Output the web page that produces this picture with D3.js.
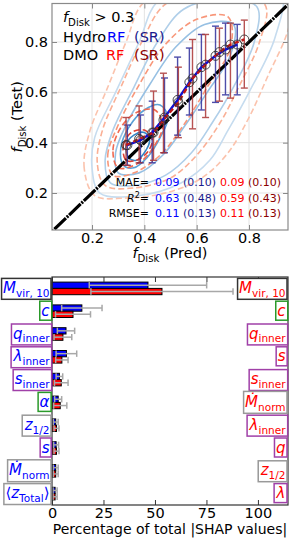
<!DOCTYPE html>
<html>
<head>
<meta charset="utf-8">
<script src="https://cdn.jsdelivr.net/npm/d3@7"></script>
<style>
  body { margin: 0; background: #fff; }
  text { font-family: "DejaVu Sans", sans-serif; }
</style>
</head>
<body>
<svg id="chart" width="297" height="543"></svg>
<script>
// ---------- data: top panel (binned predictions) ----------
const hydroPred = [0.335, 0.385, 0.43, 0.477, 0.527, 0.572, 0.618, 0.672, 0.71, 0.755];
const hydroMean = [0.39, 0.41, 0.44, 0.50, 0.57, 0.64, 0.70, 0.745, 0.77, 0.79];
const hydroLo   = [0.31, 0.32, 0.32, 0.36, 0.43, 0.51, 0.53, 0.56, 0.59, 0.59];
const hydroHi   = [0.47, 0.51, 0.565, 0.657, 0.74, 0.776, 0.83, 0.863, 0.875, 0.87];

const dmoPred = [0.33, 0.38, 0.435, 0.473, 0.53, 0.584, 0.634, 0.687, 0.729, 0.782];
const dmoMean = [0.39, 0.415, 0.44, 0.49, 0.56, 0.655, 0.71, 0.76, 0.79, 0.81];
const dmoLo   = [0.31, 0.32, 0.33, 0.36, 0.42, 0.455, 0.5, 0.565, 0.577, 0.617];
const dmoHi   = [0.5, 0.546, 0.605, 0.676, 0.70, 0.81, 0.83, 0.855, 0.875, 0.887];

// density contours (x, y in data units), outer -> inner
const hydroContours = [
  [[0.23,0.2],[0.2,0.3],[0.21,0.42],[0.29,0.6],[0.38,0.8],[0.45,0.96],[0.6,1.02],[0.92,1.0],[0.9,0.82],[0.8,0.6],[0.72,0.45],[0.65,0.33],[0.54,0.24],[0.38,0.19]],
  [[0.27,0.24],[0.25,0.33],[0.28,0.45],[0.36,0.62],[0.45,0.8],[0.55,0.93],[0.7,0.97],[0.83,0.94],[0.82,0.8],[0.74,0.62],[0.66,0.48],[0.58,0.36],[0.48,0.27],[0.36,0.23]],
  [[0.3,0.28],[0.29,0.36],[0.33,0.47],[0.42,0.63],[0.52,0.78],[0.63,0.87],[0.74,0.87],[0.73,0.75],[0.64,0.6],[0.55,0.46],[0.47,0.35],[0.38,0.28]],
  [[0.32,0.31],[0.31,0.38],[0.34,0.46],[0.4,0.53],[0.46,0.55],[0.49,0.5],[0.46,0.42],[0.41,0.34],[0.36,0.3]],
  [[0.34,0.34],[0.33,0.39],[0.36,0.43],[0.4,0.44],[0.42,0.41],[0.4,0.36],[0.37,0.33]]
];
const dmoContours = [
  [[0.21,0.19],[0.17,0.3],[0.19,0.44],[0.26,0.62],[0.33,0.8],[0.4,0.96],[0.6,1.03],[0.97,1.0],[0.95,0.85],[0.87,0.66],[0.8,0.5],[0.72,0.36],[0.62,0.26],[0.48,0.2],[0.33,0.18]],
  [[0.25,0.23],[0.22,0.32],[0.24,0.45],[0.31,0.62],[0.39,0.8],[0.48,0.95],[0.65,1.0],[0.86,0.95],[0.84,0.8],[0.76,0.62],[0.69,0.48],[0.6,0.35],[0.5,0.26],[0.36,0.22]],
  [[0.28,0.27],[0.26,0.35],[0.3,0.47],[0.38,0.63],[0.48,0.79],[0.6,0.89],[0.72,0.9],[0.73,0.78],[0.64,0.62],[0.55,0.47],[0.46,0.35],[0.36,0.28]],
  [[0.3,0.3],[0.28,0.37],[0.31,0.46],[0.37,0.52],[0.44,0.53],[0.47,0.47],[0.44,0.39],[0.38,0.32]],
  [[0.33,0.33],[0.32,0.39],[0.35,0.44],[0.4,0.45],[0.43,0.41],[0.41,0.36],[0.37,0.33]]
];

const statNames = ["MAE=", "R2=", "RMSE="];
const hydroRF = ["0.09", "0.63", "0.11"];
const hydroSR = ["(0.10)", "(0.48)", "(0.13)"];
const dmoRF   = ["0.09", "0.59", "0.11"];
const dmoSR   = ["(0.10)", "(0.43)", "(0.13)"];
const scatterTicks = [0.2, 0.4, 0.6, 0.8];

// ---------- data: bottom panel (SHAP importance) ----------
const hydroFeatures = ["Mvir10", "c", "qinner", "linner", "sinner", "alpha", "z12", "s", "Mdot", "zTotal"];
const dmoFeatures   = ["Mvir10", "c", "qinner", "s", "sinner", "Mdot", "linner", "q", "z12", "lambda"];
const hydroShap = [46.6, 14.5, 6.8, 7.0, 3.6, 3.0, 1.8, 2.0, 1.8, 1.5];
const hydroErr  = [28.5, 9.8, 4.2, 5.0, 1.6, 1.7, 1.2, 1.2, 1.2, 1.0];
const dmoShap   = [53.4, 10.2, 5.3, 4.8, 4.5, 4.0, 2.2, 2.2, 1.8, 1.5];
const dmoErr    = [34.5, 8.5, 4.3, 3.0, 3.3, 3.2, 1.2, 1.2, 1.2, 1.0];
const shapTicks = [0, 25, 50, 75, 100];

// label pieces and box colours
const labelParts = {
  Mvir10: [{t: "M", it: 1}, {t: "vir, 10", sub: 1}],
  c: [{t: "c", it: 1}],
  qinner: [{t: "q", it: 1}, {t: "inner", sub: 1}],
  linner: [{t: "λ", it: 1}, {t: "inner", sub: 1}],
  sinner: [{t: "s", it: 1}, {t: "inner", sub: 1}],
  alpha: [{t: "α", it: 1}],
  z12: [{t: "z", it: 1}, {t: "1/2", sub: 1}],
  s: [{t: "s", it: 1}],
  Mdot: [{t: "M\u0307", it: 1}, {t: "norm", sub: 1}],
  zTotal: [{t: "⟨"}, {t: "z", it: 1}, {t: "Total", sub: 1}, {t: "⟩"}],
  q: [{t: "q", it: 1}],
  lambda: [{t: "λ", it: 1}]
};
const boxColor = {
  Mvir10: "#333", c: "#2a9a2a", alpha: "#2a9a2a",
  qinner: "#a040a8", linner: "#a040a8", sinner: "#a040a8", s: "#a040a8", q: "#a040a8", lambda: "#a040a8",
  z12: "#999", Mdot: "#999", zTotal: "#999"
};

const svg = d3.select("#chart");

// write text made of italic / subscript pieces
function richText(g, parts, size) {
  const t = g.append("text").attr("font-size", size);
  let down = false;
  parts.forEach(p => {
    const s = t.append("tspan").text(p.t);
    if (p.it) s.attr("font-style", "italic");
    if (p.sub) {
      s.attr("font-size", size * 0.7);
      if (!down) { s.attr("dy", size * 0.26); down = true; }
    } else if (down) { s.attr("dy", -size * 0.26); down = false; }
  });
  return t;
}

// ================= top panel =================
const T = {left: 52, right: 288, top: 3.5, bottom: 230};
const x = d3.scaleLinear([0.047, 0.949], [T.left, T.right]);
const y = d3.scaleLinear([0.053, 0.953], [T.bottom, T.top]);

svg.append("clipPath").attr("id", "clipTop")
  .append("rect").attr("x", T.left).attr("y", T.top)
  .attr("width", T.right - T.left).attr("height", T.bottom - T.top);

const topG = svg.append("g");
const plot = topG.append("g").attr("clip-path", "url(#clipTop)");

// grid
plot.selectAll(".gx").data(scatterTicks).join("line")
  .attr("x1", d => x(d)).attr("x2", d => x(d)).attr("y1", T.top).attr("y2", T.bottom)
  .attr("stroke", "#e3e3e3").attr("stroke-width", 1);
plot.selectAll(".gy").data(scatterTicks).join("line")
  .attr("y1", d => y(d)).attr("y2", d => y(d)).attr("x1", T.left).attr("x2", T.right)
  .attr("stroke", "#e3e3e3").attr("stroke-width", 1);

// contours
const contourLine = d3.line().x(d => x(d[0])).y(d => y(d[1])).curve(d3.curveCatmullRomClosed);
const blues = ["#c6dcef", "#b0cfe9", "#97c0e3", "#5aa0d6", "#3586c6"];
const reds = ["#fbc3ad", "#fab096", "#f8977a", "#f06a52", "#dc3e32"];
plot.selectAll(".hc").data(hydroContours).join("path")
  .attr("d", contourLine).attr("fill", "none")
  .attr("stroke", (d, i) => blues[i]).attr("stroke-width", 1.6);
plot.selectAll(".dc").data(dmoContours).join("path")
  .attr("d", contourLine).attr("fill", "none")
  .attr("stroke", (d, i) => reds[i]).attr("stroke-width", 1.6)
  .attr("stroke-dasharray", "6,3");

// one-to-one line
plot.append("line")
  .attr("x1", x(0.0)).attr("y1", y(0.0)).attr("x2", x(1.0)).attr("y2", y(1.0))
  .attr("stroke", "#000").attr("stroke-width", 3.2)
  .attr("stroke-dasharray", "16,1.2,2,1.2");

// error bars
function errorBars(px, lo, hi, color) {
  const g = plot.append("g").attr("stroke", color).attr("stroke-width", 1.4).attr("opacity", 0.85);
  px.forEach((p, i) => {
    g.append("line").attr("x1", x(p)).attr("x2", x(p)).attr("y1", y(lo[i])).attr("y2", y(hi[i]));
    g.append("line").attr("x1", x(p) - 3.5).attr("x2", x(p) + 3.5).attr("y1", y(lo[i])).attr("y2", y(lo[i]));
    g.append("line").attr("x1", x(p) - 3.5).attr("x2", x(p) + 3.5).attr("y1", y(hi[i])).attr("y2", y(hi[i]));
  });
}
errorBars(hydroPred, hydroLo, hydroHi, "#2e2e9c");
errorBars(dmoPred, dmoLo, dmoHi, "#ab3434");

// RF lines through the means
const meanLine = d3.line().x(d => x(d[0])).y(d => y(d[1]));
plot.append("path").datum(d3.zip(hydroPred, hydroMean)).attr("d", meanLine)
  .attr("fill", "none").attr("stroke", "#1010d0").attr("stroke-width", 2.4);
plot.append("path").datum(d3.zip(dmoPred, dmoMean)).attr("d", meanLine)
  .attr("fill", "none").attr("stroke", "#c01818").attr("stroke-width", 2.4)
  .attr("stroke-dasharray", "5,3");

// open markers
plot.selectAll(".mh").data(d3.zip(hydroPred, hydroMean).concat(d3.zip(dmoPred, dmoMean))).join("circle")
  .attr("cx", d => x(d[0])).attr("cy", d => y(d[1])).attr("r", 4.5)
  .attr("fill", "none").attr("stroke", "#333").attr("stroke-width", 0.9);

// axes (ticks inward on all sides)
const tickCol = "#888";
function styleAxis(g) {
  g.select(".domain").remove();
  g.selectAll(".tick line").attr("stroke", tickCol);
  g.selectAll(".tick text").attr("font-size", 14.5).attr("fill", "#000").attr("font-family", "DejaVu Sans");
}
topG.append("g").attr("transform", `translate(0,${T.bottom})`)
  .call(d3.axisBottom(x).tickValues(scatterTicks).tickFormat(d3.format(".1f")).tickSizeInner(-5).tickSizeOuter(0).tickPadding(3))
  .call(styleAxis);
topG.append("g").attr("transform", `translate(${T.left},0)`)
  .call(d3.axisLeft(y).tickValues(scatterTicks).tickFormat(d3.format(".1f")).tickSizeInner(-5).tickSizeOuter(0).tickPadding(4))
  .call(styleAxis);
topG.append("g").attr("transform", `translate(0,${T.top})`)
  .call(d3.axisTop(x).tickValues(scatterTicks).tickFormat("").tickSizeInner(-5).tickSizeOuter(0))
  .call(styleAxis);
topG.append("g").attr("transform", `translate(${T.right},0)`)
  .call(d3.axisRight(y).tickValues(scatterTicks).tickFormat("").tickSizeInner(-5).tickSizeOuter(0))
  .call(styleAxis);
topG.append("rect").attr("x", T.left).attr("y", T.top)
  .attr("width", T.right - T.left).attr("height", T.bottom - T.top)
  .attr("fill", "none").attr("stroke", "#8a8a8a").attr("stroke-width", 1.2);

// axis labels
richText(topG, [{t: "f", it: 1}, {t: "Disk", sub: 1}, {t: " (Pred)"}], 14.5)
  .attr("x", (T.left + T.right) / 2).attr("y", 258).attr("text-anchor", "middle");
richText(topG, [{t: "f", it: 1}, {t: "Disk", sub: 1}, {t: " (Test)"}], 14.5)
  .attr("text-anchor", "middle")
  .attr("transform", `translate(22,${(T.top + T.bottom) / 2}) rotate(-90)`);

// legend text
richText(topG, [{t: "f", it: 1}, {t: "Disk", sub: 1}, {t: " > 0.3"}], 14.5).attr("x", 63).attr("y", 22);
topG.append("text").attr("x", 63).attr("y", 42).attr("font-size", 14.5).text("Hydro");
topG.append("text").attr("x", 107).attr("y", 42).attr("font-size", 14.5).attr("fill", "#0000ff").text("RF");
topG.append("text").attr("x", 134).attr("y", 42).attr("font-size", 14.5).attr("fill", "#1a1a8c").text("(SR)");
topG.append("text").attr("x", 63).attr("y", 60).attr("font-size", 14.5).text("DMO");
topG.append("text").attr("x", 106).attr("y", 60).attr("font-size", 14.5).attr("fill", "#ff0000").text("RF");
topG.append("text").attr("x", 134).attr("y", 60).attr("font-size", 14.5).attr("fill", "#8b0000").text("(SR)");

// metrics
const statY = [185.5, 201.5, 217];
statNames.forEach((n, i) => {
  const t = topG.append("text").attr("x", 149).attr("y", statY[i]).attr("font-size", 11).attr("text-anchor", "end");
  if (n === "R2=") {
    t.append("tspan").attr("font-style", "italic").text("R");
    t.append("tspan").attr("font-size", 8).attr("dy", -4).text("2");
    t.append("tspan").attr("dy", 4).text("=");
  } else t.text(n);
  const a = topG.append("text").attr("x", 155).attr("y", statY[i]).attr("font-size", 11);
  a.append("tspan").attr("fill", "#0000ff").text(hydroRF[i]);
  a.append("tspan").attr("fill", "#1a1a8c").text(" " + hydroSR[i]);
  const b = topG.append("text").attr("x", 220).attr("y", statY[i]).attr("font-size", 11);
  b.append("tspan").attr("fill", "#ff0000").text(dmoRF[i]);
  b.append("tspan").attr("fill", "#8b0000").text(" " + dmoSR[i]);
});

// ================= bottom panel =================
const B = {left: 52, right: 288, top: 277, bottom: 505};
const xs = d3.scaleLinear([0, 114.6], [B.left, B.right]);
const ys = d3.scaleBand(hydroFeatures, [B.top, B.bottom]);
const bot = svg.append("g");
const barH = 6.3;
const yc = i => ys(hydroFeatures[i]) + ys.bandwidth() / 2;

bot.selectAll(".hb").data(hydroShap).join("rect")
  .attr("x", xs(0)).attr("y", (d, i) => yc(i) - barH)
  .attr("width", d => xs(d) - xs(0)).attr("height", barH)
  .attr("fill", "#0000ff").attr("stroke", "#000").attr("stroke-width", 1);
bot.selectAll(".db").data(dmoShap).join("rect")
  .attr("x", xs(0)).attr("y", (d, i) => yc(i))
  .attr("width", d => xs(d) - xs(0)).attr("height", barH)
  .attr("fill", "#ff0000").attr("stroke", "#000").attr("stroke-width", 1);

function shapErr(vals, errs, off) {
  const g = bot.append("g").attr("stroke", "#a8a8a8").attr("stroke-width", 1.5);
  vals.forEach((v, i) => {
    const cy = yc(i) + off;
    const x0 = xs(Math.max(0, v - errs[i])), x1 = xs(v + errs[i]);
    g.append("line").attr("x1", x0).attr("x2", x1).attr("y1", cy).attr("y2", cy);
    g.append("line").attr("x1", x0).attr("x2", x0).attr("y1", cy - 3.2).attr("y2", cy + 3.2);
    g.append("line").attr("x1", x1).attr("x2", x1).attr("y1", cy - 3.2).attr("y2", cy + 3.2);
  });
}
shapErr(hydroShap, hydroErr, -barH / 2);
shapErr(dmoShap, dmoErr, barH / 2);

bot.append("g").attr("transform", `translate(0,${B.bottom})`)
  .call(d3.axisBottom(xs).tickValues(shapTicks).tickSizeInner(-5).tickSizeOuter(0).tickPadding(3))
  .call(g => { styleAxis(g); g.selectAll(".tick line").attr("stroke", "#333"); g.selectAll(".tick text").attr("font-size", 14.5); });
bot.append("g").attr("transform", `translate(0,${B.top})`)
  .call(d3.axisTop(xs).tickValues(shapTicks).tickFormat("").tickSizeInner(-5).tickSizeOuter(0))
  .call(g => { styleAxis(g); g.selectAll(".tick line").attr("stroke", "#333"); });
bot.append("rect").attr("x", B.left).attr("y", B.top)
  .attr("width", B.right - B.left).attr("height", B.bottom - B.top)
  .attr("fill", "none").attr("stroke", "#333").attr("stroke-width", 1.2);

bot.append("text").attr("x", (B.left + B.right) / 2).attr("y", 534)
  .attr("text-anchor", "middle").attr("font-size", 14).text("Percentage of total |SHAP values|");

// feature labels in boxes
function featureLabel(key, xr, cy, color) {
  const g = bot.append("g");
  const t = richText(g, labelParts[key], 15)
    .attr("x", xr).attr("y", cy + 4.5).attr("text-anchor", "end").attr("fill", color);
  const bb = t.node().getBBox();
  g.insert("rect", "text")
    .attr("x", bb.x - 1.5).attr("y", bb.y - 0.5)
    .attr("width", bb.width + 3).attr("height", bb.height + 1)
    .attr("fill", "#fff").attr("stroke", boxColor[key]).attr("stroke-width", 1.5);
}
hydroFeatures.forEach((k, i) => featureLabel(k, 49.5, yc(i), "#0000ff"));
dmoFeatures.forEach((k, i) => featureLabel(k, 285.5, yc(i), "#ff0000"));
</script>
</body>
</html>
